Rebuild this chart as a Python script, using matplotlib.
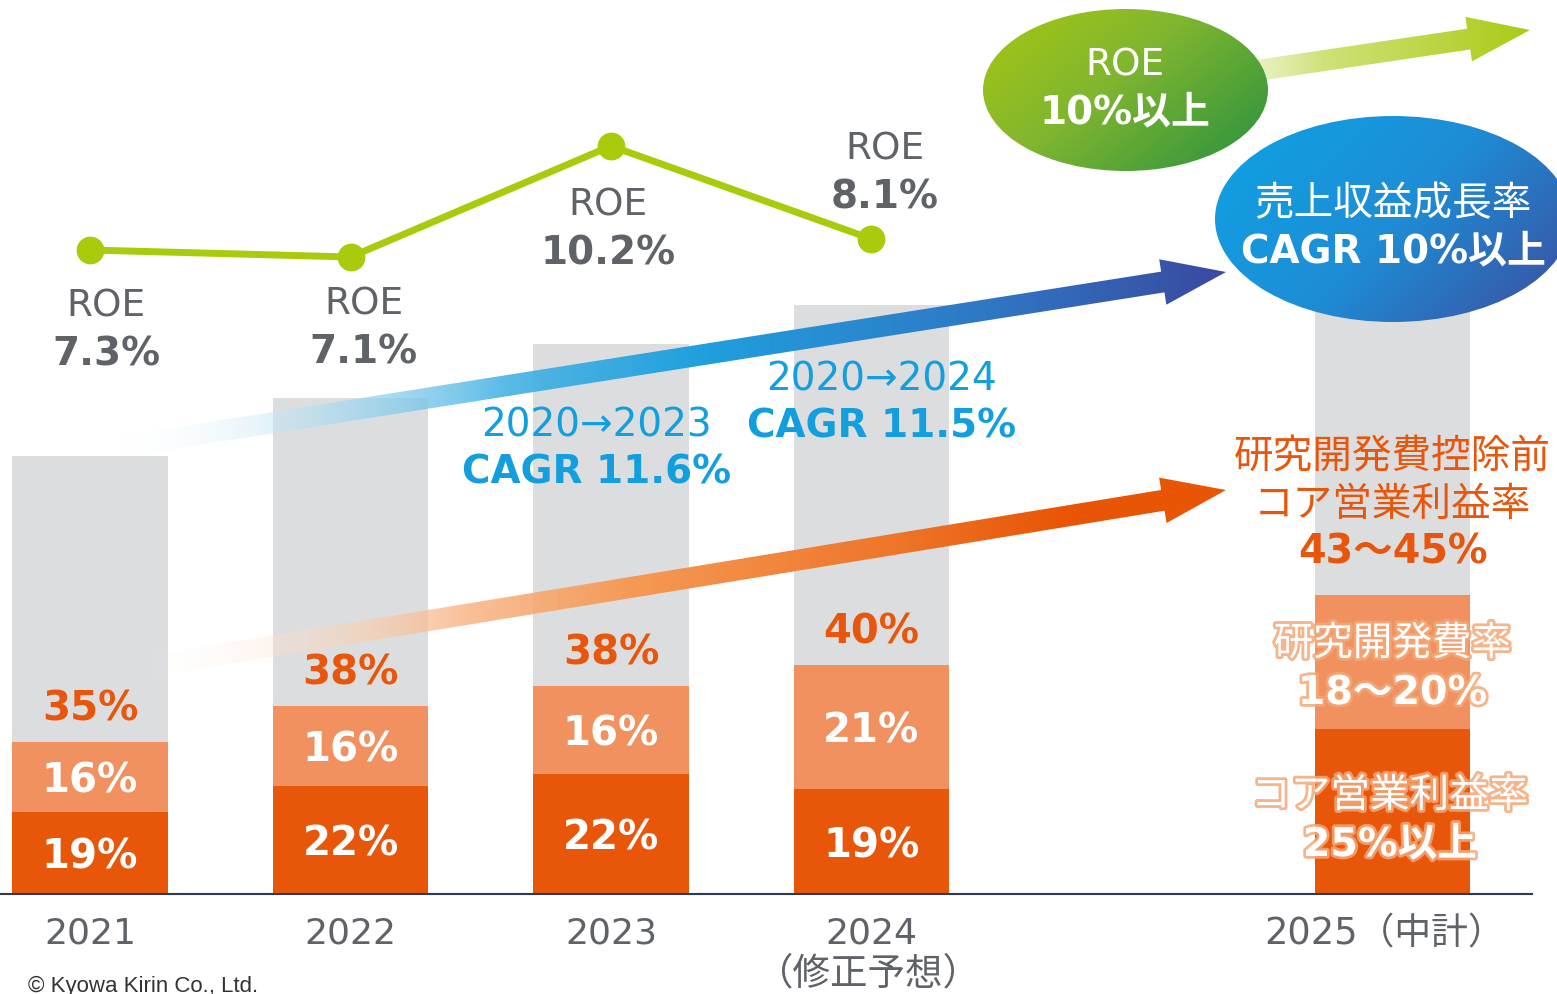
import matplotlib
matplotlib.use('Agg')
import matplotlib.pyplot as plt
import matplotlib.patheffects as pe
from matplotlib.patches import Polygon, Ellipse
from matplotlib.colors import to_rgb
import numpy as np

plt.rcParams['font.family'] = ['DejaVu Sans', 'Noto Sans CJK JP']

# --- data (bar heights, arbitrary revenue scale) ---
years = ['2021', '2022', '2023', '2024', '2025（中計）']
x_pos = [0, 1, 2, 3, 5]
revenue_h = [438, 496, 550, 589, 600]
core_op_h = [82, 108, 120, 105, 165]
rd_h = [70, 80, 88, 124, 134]
core_op_lbl = ['19%', '22%', '22%', '19%']
rd_lbl = ['16%', '16%', '16%', '21%']
pre_rd_lbl = ['35%', '38%', '38%', '40%']
roe_lbl = ['7.3%', '7.1%', '10.2%', '8.1%']
roe_y = [644, 637, 748, 655]

GRAY = '#DCDDDF'
DARK = '#E8560A'
LIGHT = '#F0915F'
ORANGE_TXT = '#E8560C'
GREEN = '#A8CB0C'
TXT_GRAY = '#5F6368'
BLUE_TXT = '#139FDD'

fig = plt.figure(figsize=(15.57, 9.95), dpi=100)
ax = fig.add_axes([0, 0, 1, 1], label='main')
ax.set_xlim(-0.3455, 5.6315)
ax.set_ylim(-100, 895)
ax.axis('off')

sh = -4  # small downward nudge so text centres sit like the reference

w = 0.596
ax.bar(x_pos, revenue_h, width=w, color=GRAY, zorder=1)
ax.bar(x_pos, core_op_h, width=w, color=DARK, zorder=2)
ax.bar(x_pos, rd_h, bottom=core_op_h, width=w, color=LIGHT, zorder=2)
ax.axhline(0, xmin=0, xmax=1532 / 1557, color='#2E3B4E', lw=1.5, zorder=3)

# bar labels
for i in range(4):
    x = x_pos[i]
    ax.text(x, core_op_h[i] / 2 + sh, core_op_lbl[i], ha='center', va='center',
            color='white', fontsize=29, fontweight='bold', zorder=4)
    ax.text(x, core_op_h[i] + rd_h[i] / 2 + sh, rd_lbl[i], ha='center', va='center',
            color='white', fontsize=29, fontweight='bold', zorder=4)
    ax.text(x, core_op_h[i] + rd_h[i] + 37 + sh, pre_rd_lbl[i], ha='center', va='center',
            color=ORANGE_TXT, fontsize=29, fontweight='bold', zorder=4)

# ROE line
ax.plot(x_pos[:4], roe_y, color=GREEN, lw=5, marker='o', ms=19, zorder=5)
roe_offsets = [(16, -52), (13, -43), (-3, -55), (13, 94)]
for i in range(4):
    dx, dy = roe_offsets[i]
    ax.annotate('ROE', (x_pos[i], roe_y[i]), xytext=(dx, dy + sh), textcoords='offset pixels',
                ha='center', va='center', color=TXT_GRAY, fontsize=27)
    ax.annotate(roe_lbl[i], (x_pos[i], roe_y[i]), xytext=(dx, dy - 48 + sh), textcoords='offset pixels',
                ha='center', va='center', color=TXT_GRAY, fontsize=28, fontweight='bold')

# year labels
for i in range(4):
    ax.text(x_pos[i], -35 + sh, years[i], ha='center', va='center', color=TXT_GRAY, fontsize=26)
ax.text(x_pos[3] - 0.01, -79, '（修正予想）', ha='center', va='center', color=TXT_GRAY,
        fontsize=27, family=['Noto Sans CJK JP'])
ax.text(x_pos[4] - 0.03, -35 + sh, years[4], ha='center', va='center', color=TXT_GRAY, fontsize=26.5)

# CAGR labels
ax.text(1.946, 473 + sh, '2020→2023', ha='center', va='center', color=BLUE_TXT, fontsize=28)
ax.text(1.946, 426 + sh, 'CAGR 11.6%', ha='center', va='center', color=BLUE_TXT, fontsize=28,
        fontweight='bold')
ax.text(3.04, 519 + sh, '2020→2024', ha='center', va='center', color=BLUE_TXT, fontsize=28)
ax.text(3.04, 472 + sh, 'CAGR 11.5%', ha='center', va='center', color=BLUE_TXT, fontsize=28,
        fontweight='bold')

# 2025 target labels
x5 = x_pos[4]
ax.text(x5, 442 + sh, '研究開発費控除前', ha='center', va='center', color=ORANGE_TXT, fontsize=28.5)
ax.text(x5, 394 + sh, 'コア営業利益率', ha='center', va='center', color=ORANGE_TXT, fontsize=28.5)
ax.text(x5, 346 + sh, '43～45%', ha='center', va='center', color=ORANGE_TXT, fontsize=28.5,
        fontweight='bold')
glow = [pe.withStroke(linewidth=4, foreground='#F5A777', alpha=0.85)]
ax.text(x5, 254 + sh, '研究開発費率', ha='center', va='center', color='white', fontsize=28.5,
        path_effects=glow, zorder=4)
ax.text(x5, 205 + sh, '18～20%', ha='center', va='center', color='white', fontsize=28.5,
        fontweight='bold', path_effects=glow, zorder=4)
ax.text(x5 - 0.01, 102 + sh, 'コア営業利益率', ha='center', va='center', color='white', fontsize=28.5,
        path_effects=glow, zorder=4)
ax.text(x5 - 0.01, 53 + sh, '25%以上', ha='center', va='center', color='white', fontsize=28.5,
        fontweight='bold', path_effects=glow, zorder=4)

# --- decoration layer in pixel coordinates: gradient arrows and ellipses ---
deco = fig.add_axes([0, 0, 1, 1], label='deco', zorder=5)
deco.patch.set_alpha(0)
deco.axis('off')


def arrow_poly(tail, tip, sw=10.5, hw=23, hl=64):
    t = np.array(tail, float)
    p = np.array(tip, float)
    d = (p - t) / np.hypot(*(p - t))
    n = np.array([-d[1], d[0]])
    b = p - d * hl
    return np.array([t + n * sw, b + n * sw, b + n * hw, p, b - n * hw, b - n * sw, t - n * sw])


def grad_fill(patch, stops, extent, diag=0.0, zorder=3):
    x0, x1, y0, y1 = extent
    nx, ny = 500, 200
    u = np.linspace(0, 1, nx)[None, :].repeat(ny, 0)
    v = np.linspace(0, 1, ny)[:, None].repeat(nx, 1)
    u = (1 - diag) * u + diag * v
    pos = [s[0] for s in stops]
    rgba = np.zeros((ny, nx, 4))
    for k in range(3):
        rgba[..., k] = np.interp(u, pos, [to_rgb(s[1])[k] for s in stops])
    rgba[..., 3] = np.interp(u, pos, [s[2] for s in stops])
    deco.add_patch(patch)
    im = deco.imshow(rgba, extent=(x0, x1, y1, y0), aspect='auto', zorder=zorder,
                     interpolation='bilinear')
    im.set_clip_path(patch)


blue_stops = [(0, '#FFFFFF', 0.0), (0.12, '#D2ECF8', 0.5), (0.35, '#45B2E4', 0.9),
              (0.52, '#20A0DE', 1), (0.78, '#2F78C4', 1), (1, '#3A48A0', 1)]
grad_fill(Polygon(arrow_poly((125, 447), (1226, 273)), fc='none', ec='none'),
          blue_stops, (120, 1230, 250, 465))

orange_stops = [(0, '#FFFFFF', 0.0), (0.15, '#FBDCC4', 0.45), (0.3, '#F8B585', 0.85),
                (0.45, '#F59A55', 1), (0.7, '#EE7428', 1), (0.85, '#E85504', 1), (1, '#E85504', 1)]
grad_fill(Polygon(arrow_poly((145, 668), (1226, 491)), fc='none', ec='none'),
          orange_stops, (140, 1230, 470, 690))

green_stops = [(0, '#E9F2C0', 0.6), (0.3, '#CFE27A', 1), (1, '#A9CA14', 1)]
grad_fill(Polygon(arrow_poly((1240, 74), (1530, 31), hw=22.5, hl=62), fc='none', ec='none'),
          green_stops, (1230, 1535, 0, 100))

g_ell = Ellipse((1125.5, 91), 285, 162, fc='none', ec='none')
grad_fill(g_ell, [(0, '#A8C812', 1), (0.45, '#7FB530', 1), (1, '#26903F', 1)],
          (983, 1268, 10, 172), diag=0.4, zorder=6)
b_ell = Ellipse((1393, 220), 356, 206, fc='none', ec='none')
grad_fill(b_ell, [(0, '#0DA3E4', 1), (0.5, '#1E8DD6', 1), (1, '#3D4C9C', 1)],
          (1215, 1571, 117, 323), diag=0.35, zorder=6)

deco.text(1125, 66, 'ROE', ha='center', va='center', color='white', fontsize=27, zorder=7)
deco.text(1125, 112, '10%以上', ha='center', va='center', color='white', fontsize=28,
          fontweight='bold', zorder=7)
deco.text(1393, 204, '売上収益成長率', ha='center', va='center', color='white', fontsize=28.5, zorder=7)
deco.text(1393, 251, 'CAGR 10%以上', ha='center', va='center', color='white', fontsize=28,
          fontweight='bold', zorder=7)

deco.text(28, 976, '© Kyowa Kirin Co., Ltd.', ha='left', va='top', color='#333333',
          fontsize=16, family=['Liberation Sans'])

deco.set_xlim(0, 1557)
deco.set_ylim(995, 0)

fig.savefig('out.png', dpi=100)
plt.close()
